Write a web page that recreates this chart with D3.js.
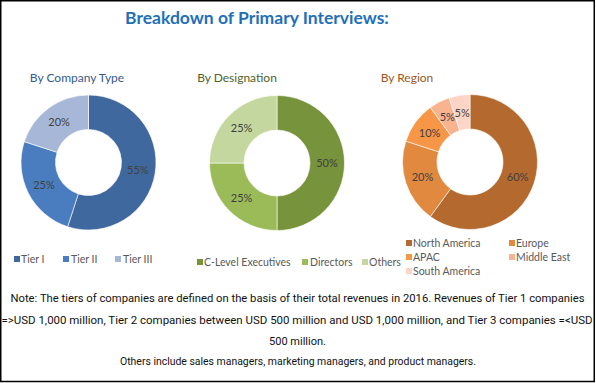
<!DOCTYPE html>
<html>
<head>
<meta charset="utf-8">
<script src="https://cdn.jsdelivr.net/npm/d3@7"></script>
<style>
  html, body { margin: 0; padding: 0; background: #fff; }
  svg { display: block; }
</style>
</head>
<body>
<svg id="chart" width="596" height="383"></svg>
<script>
// ---------- DATA ----------
const chartTitle = "Breakdown of Primary Interviews:";

const companyTitle = "By Company Type";
const companyTypes = ["Tier I", "Tier II", "Tier III"];
const companyShares = [55, 25, 20];

const designationTitle = "By Designation";
const designations = ["C-Level Executives", "Directors", "Others"];
const designationShares = [50, 25, 25];

const regionTitle = "By Region";
const regions = ["North America", "Europe", "APAC", "Middle East", "South America"];
const regionShares = [60, 20, 10, 5, 5];

const noteLines = [
  "Note: The tiers of companies are defined on the basis of their total revenues in 2016. Revenues of Tier 1 companies",
  "=>USD 1,000 million, Tier 2 companies between USD 500 million and USD 1,000 million, and Tier 3 companies =<USD",
  "500 million.",
  "Others include sales managers, marketing managers, and product managers."
];

// ---------- STYLE / LAYOUT ----------
const W = 596, H = 383;
const svg = d3.select("#chart");
const labelFont = "Lato, 'Open Sans', sans-serif";

svg.append("rect").attr("x", 0.75).attr("y", 0.75).attr("width", 593.5).attr("height", 380.75)
  .attr("fill", "#fff").attr("stroke", "#000").attr("stroke-width", 1.5);

svg.append("text").attr("x", 257).attr("y", 24).attr("text-anchor", "middle")
  .attr("font-family", labelFont).attr("font-weight", "bold").attr("font-size", 17.5)
  .attr("fill", "#1F70B8").text(chartTitle);

const panels = [
  {
    title: companyTitle, titleColor: "#335B8C", titleX: 77,
    cats: companyTypes, vals: companyShares,
    colors: ["#3F689F", "#4A7DBF", "#A7B7D7"],
    cx: 88.5, cy: 162.5,
    legend: [
      {sx: 14, tx: 21, cy: 259},
      {sx: 63, tx: 71, cy: 259},
      {sx: 115, tx: 123, cy: 259}
    ]
  },
  {
    title: designationTitle, titleColor: "#4F6228", titleX: 237,
    cats: designations, vals: designationShares,
    colors: ["#77933C", "#9BBB59", "#C4D79F"],
    cx: 277, cy: 163,
    legend: [
      {sx: 197, tx: 204, cy: 262},
      {sx: 302, tx: 310, cy: 262},
      {sx: 362, tx: 369, cy: 262}
    ]
  },
  {
    title: regionTitle, titleColor: "#9C5621", titleX: 407,
    cats: regions, vals: regionShares,
    colors: ["#B46A2F", "#E0893F", "#F79646", "#F9B38F", "#FCD5C6"],
    cx: 470, cy: 162,
    legend: [
      {sx: 406, tx: 413, cy: 243},
      {sx: 509, tx: 516, cy: 243},
      {sx: 406, tx: 413, cy: 257},
      {sx: 509, tx: 516, cy: 257},
      {sx: 406, tx: 413, cy: 271}
    ]
  }
];

const outerR = 67.5, innerR = 33;
const arc = d3.arc().innerRadius(innerR).outerRadius(outerR);
const labelArc = d3.arc().innerRadius(50).outerRadius(50);
const pie = d3.pie().sort(null).value(d => d);

panels.forEach(p => {
  const color = d3.scaleOrdinal().domain(p.cats).range(p.colors);

  svg.append("text").attr("x", p.titleX).attr("y", 82).attr("text-anchor", "middle")
    .attr("font-family", labelFont).attr("font-size", 12).attr("fill", p.titleColor)
    .text(p.title);

  const g = svg.append("g").attr("transform", `translate(${p.cx},${p.cy})`);
  const arcs = pie(p.vals);
  g.selectAll("path").data(arcs).enter().append("path")
    .attr("d", arc)
    .attr("fill", (d, i) => color(p.cats[i]))
    .attr("stroke", "#fff").attr("stroke-width", 0.6);

  g.selectAll("text").data(arcs).enter().append("text")
    .attr("transform", d => `translate(${labelArc.centroid(d)})`)
    .attr("text-anchor", "middle").attr("dy", "0.36em")
    .attr("font-family", labelFont).attr("font-size", 11).attr("fill", "#404040")
    .text(d => d.data + "%");

  const lg = svg.append("g");
  p.cats.forEach((c, i) => {
    const L = p.legend[i];
    lg.append("rect").attr("x", L.sx).attr("y", L.cy - 3).attr("width", 6).attr("height", 6)
      .attr("fill", color(c));
    lg.append("text").attr("x", L.tx).attr("y", L.cy).attr("dy", "0.35em")
      .attr("font-family", labelFont).attr("font-size", 10.5).attr("fill", "#595959")
      .text(c);
  });
});

// notes
const noteLayout = [
  {cx: 297.5, y: 302, len: 574},
  {cx: 297, y: 324, len: 591},
  {cx: 297.5, y: 345, len: null},
  {cx: 298, y: 365, len: 356}
];
noteLines.forEach((t, i) => {
  const L = noteLayout[i];
  const tx = svg.append("text").attr("x", L.cx).attr("y", L.y).attr("text-anchor", "middle")
    .attr("font-family", "'Liberation Sans Narrow', 'Roboto', sans-serif")
    .attr("font-size", 11).attr("fill", "#111").text(t);
  if (L.len) tx.attr("textLength", L.len).attr("lengthAdjust", "spacingAndGlyphs");
});
</script>
</body>
</html>
